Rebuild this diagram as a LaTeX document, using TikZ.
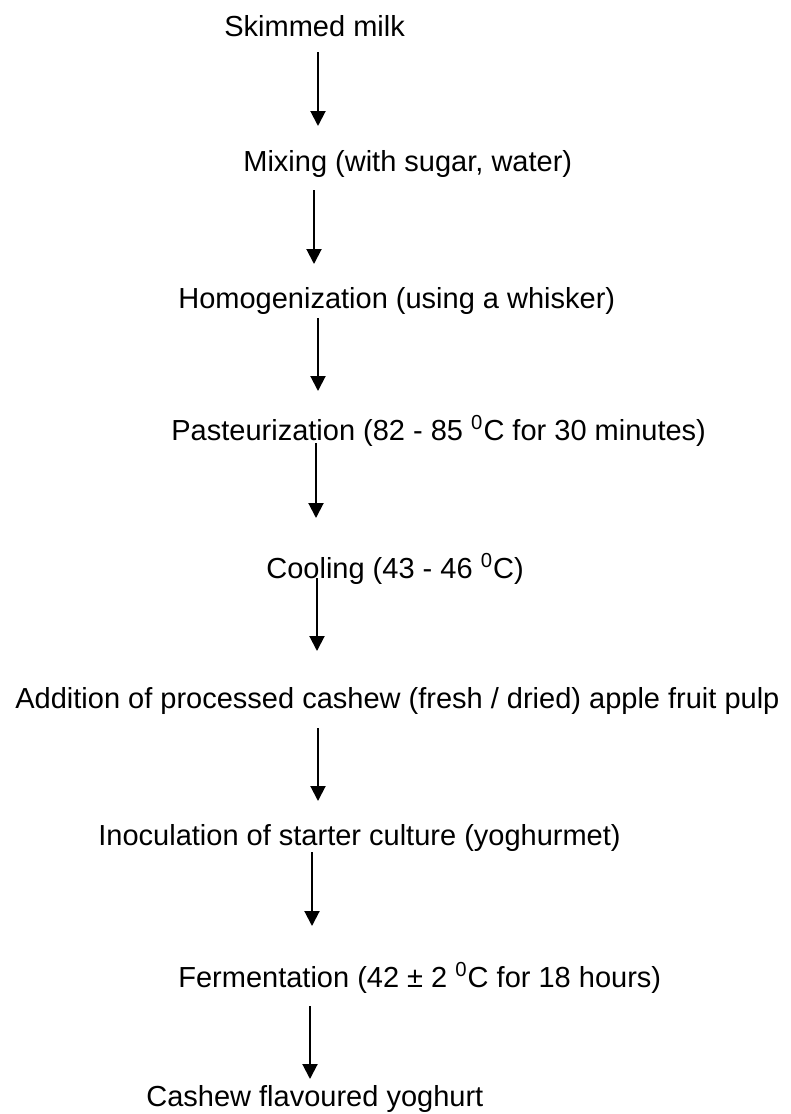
\documentclass[tikz,border=0pt]{standalone}
\usepackage{fontspec}
\setmainfont{Liberation Sans}
\usetikzlibrary{arrows.meta}

\begin{document}
\begin{tikzpicture}[x=0.5pt, y=-0.5pt,
  stage/.style={anchor=base west, inner sep=0pt, font=\fontsize{14.5}{17}\selectfont},
  arrow/.style={-{Triangle[length=7.5pt, width=7.5pt]}, line width=1pt}
]
\useasboundingbox (0,0) rectangle (791,1114);

% Process steps (left edge, baseline)
\node[stage] at (224,36)   (milk)    {Skimmed milk};
\node[stage] at (243,171)  (mixing)  {Mixing (with sugar, water)};
\node[stage] at (178,308)  (homog)   {Homogenization (using a whisker)};
\node[stage] at (171,440)  (pasteur) {Pasteurization (82 - 85 \textsuperscript{0}C for 30 minutes)};
\node[stage] at (266,578)  (cooling) {Cooling (43 - 46 \textsuperscript{0}C)};
\node[stage] at (15,708)   (pulp)    {Addition of processed cashew (fresh / dried) apple fruit pulp};
\node[stage] at (98,845)   (inoc)    {Inoculation of starter culture (yoghurmet)};
\node[stage] at (178,987)  (ferment) {Fermentation (42 ± 2 \textsuperscript{0}C for 18 hours)};
\node[stage] at (146,1106) (yoghurt) {Cashew flavoured yoghurt};

% Arrow ends
\coordinate (m1) at (318,52);   \coordinate (m2) at (318,126);
\coordinate (x1) at (314,190);  \coordinate (x2) at (314,264);
\coordinate (h1) at (318,318);  \coordinate (h2) at (318,391);
\coordinate (p1) at (316,443);  \coordinate (p2) at (316,518);
\coordinate (c1) at (317,578);  \coordinate (c2) at (317,651);
\coordinate (f1) at (318,728);  \coordinate (f2) at (318,801);
\coordinate (i1) at (312,852);  \coordinate (i2) at (312,926);
\coordinate (e1) at (310,1006); \coordinate (e2) at (310,1079);

% Arrows
\draw[arrow] (m1) -- (m2);
\draw[arrow] (x1) -- (x2);
\draw[arrow] (h1) -- (h2);
\draw[arrow] (p1) -- (p2);
\draw[arrow] (c1) -- (c2);
\draw[arrow] (f1) -- (f2);
\draw[arrow] (i1) -- (i2);
\draw[arrow] (e1) -- (e2);
\end{tikzpicture}
\end{document}
